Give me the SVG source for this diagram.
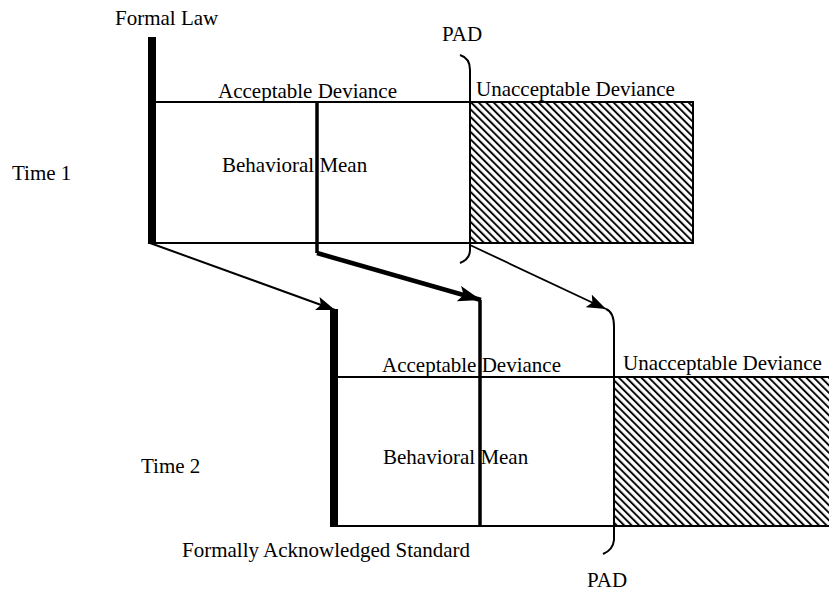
<svg xmlns="http://www.w3.org/2000/svg" width="829" height="593" viewBox="0 0 829 593">
<style>
text{font-family:"Liberation Serif","Times New Roman",serif;font-size:21px;fill:#000}
.ln{stroke:#000;stroke-width:2;fill:none}
.bar{stroke:#000;stroke-width:8;fill:none}
.mean{stroke:#000;stroke-width:3.5;fill:none}
.br{stroke:#000;stroke-width:2;fill:none}
.hatch{fill:url(#hatch);stroke:#000;stroke-width:2}
</style>
<defs>
<pattern id="hatch" patternUnits="userSpaceOnUse" width="5.3" height="10" patternTransform="rotate(-45)">
<rect width="5.3" height="10" fill="#fff"/>
<line x1="1" y1="0" x2="1" y2="10" stroke="#000" stroke-width="1.9"/>
</pattern>
<marker id="ah" markerUnits="userSpaceOnUse" markerWidth="20" markerHeight="14" refX="19" refY="7" orient="auto">
<path d="M0,0 L19,7 L0,14 L4,7 z" fill="#000"/>
</marker>
<marker id="ahb" markerUnits="userSpaceOnUse" markerWidth="24" markerHeight="16" refX="23" refY="8" orient="auto">
<path d="M0,0 L23,8 L0,16 L5,8 z" fill="#000"/>
</marker>
</defs>
<g id="labels">
<text x="115" y="25">Formal Law</text>
<text x="12" y="180">Time 1</text>
<text x="141" y="473">Time 2</text>
<text x="182" y="557">Formally Acknowledged Standard</text>
</g>
<g id="time1">
<rect class="hatch" x="470" y="102" width="223" height="141"/>
<line class="ln" x1="152" y1="102" x2="470" y2="102"/>
<line class="ln" x1="152" y1="243" x2="470" y2="243"/>
<line class="bar" x1="152" y1="37" x2="152" y2="244"/>
<line class="mean" x1="317" y1="102" x2="317" y2="253"/>
<text x="218" y="98">Acceptable Deviance</text>
<text x="476" y="96">Unacceptable Deviance</text>
<text x="222" y="172">Behavioral Mean</text>
</g>
<g id="pad1">
<path class="br" d="M460,55 Q470,58 470,70 L470,250 Q470,259 460,263"/>
<text x="442" y="41">PAD</text>
</g>
<g id="time2">
<rect class="hatch" x="614" y="377" width="220" height="149"/>
<line class="ln" x1="334" y1="377" x2="614" y2="377"/>
<line class="ln" x1="330" y1="526" x2="614" y2="526"/>
<line class="bar" x1="334" y1="309" x2="334" y2="527"/>
<line class="mean" x1="480" y1="300" x2="480" y2="526"/>
<text x="382" y="372">Acceptable Deviance</text>
<text x="623" y="370">Unacceptable Deviance</text>
<text x="383" y="464">Behavioral Mean</text>
</g>
<g id="pad2">
<path class="br" d="M606,309 Q614,312 614,327 L614,540 Q613,550 603,554"/>
<text x="587" y="587">PAD</text>
</g>
<g id="connectors">
<line x1="150" y1="243" x2="335" y2="310" stroke="#000" stroke-width="2" marker-end="url(#ah)"/>
<polyline points="317,253 481,300" fill="none" stroke="#000" stroke-width="4.5" marker-end="url(#ahb)"/>
<line x1="470" y1="245" x2="606" y2="309" stroke="#000" stroke-width="1.8" marker-end="url(#ah)"/>
</g>
</svg>
